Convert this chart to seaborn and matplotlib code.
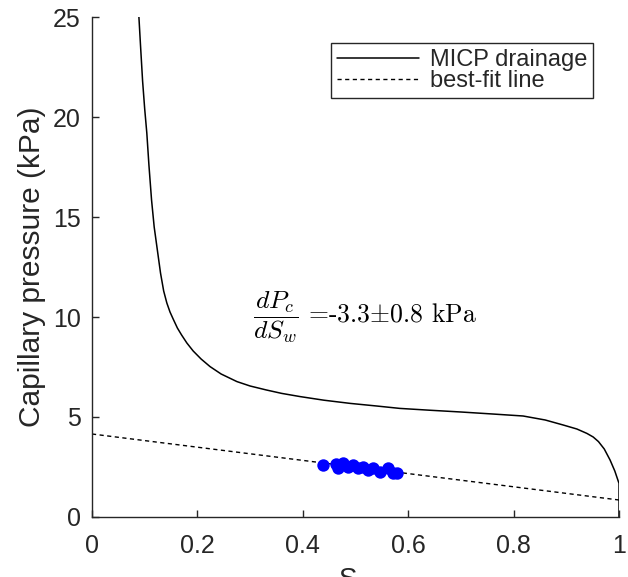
import matplotlib
matplotlib.use('Agg')
import matplotlib.pyplot as plt
import seaborn as sns
import pandas as pd

# MICP drainage curve
micp_sw = [0.089, 0.092, 0.096, 0.100, 0.104, 0.108, 0.113, 0.118, 0.124, 0.130,
           0.136, 0.142, 0.148, 0.154, 0.162, 0.170, 0.180, 0.192, 0.207, 0.224,
           0.245, 0.275, 0.300, 0.331, 0.360, 0.395, 0.440, 0.490, 0.540, 0.584,
           0.640, 0.700, 0.760, 0.818, 0.860, 0.894, 0.920, 0.939, 0.951, 0.961,
           0.972, 0.983, 0.992, 1.0, 1.0]
micp_pc = [25.0, 23.6, 21.8, 20.4, 19.2, 17.6, 15.85, 14.5, 13.35, 12.2,
           11.3, 10.7, 10.25, 9.9, 9.45, 9.1, 8.7, 8.3, 7.9, 7.52,
           7.15, 6.77, 6.55, 6.35, 6.18, 6.02, 5.84, 5.68, 5.55, 5.43,
           5.34, 5.25, 5.15, 5.05, 4.85, 4.6, 4.4, 4.18, 4.0, 3.77,
           3.4, 2.85, 2.3, 1.68, 0.0]

# best-fit line end points
fit_sw = [0.0, 1.0]
fit_pc = [4.15, 0.85]

# blue data points
pts_sw = [0.439, 0.463, 0.467, 0.477, 0.486, 0.496, 0.505, 0.515, 0.524, 0.534,
          0.546, 0.562, 0.572, 0.579]
pts_pc = [2.60, 2.65, 2.43, 2.68, 2.52, 2.60, 2.43, 2.52, 2.35, 2.43,
          2.27, 2.43, 2.18, 2.18]

xticks = [0, 0.2, 0.4, 0.6, 0.8, 1]
xticklabels = ['0', '0.2', '0.4', '0.6', '0.8', '1']
yticks = [0, 5, 10, 15, 20, 25]

micp = pd.DataFrame({'Sw': micp_sw, 'Pc': micp_pc})
fit = pd.DataFrame({'Sw': fit_sw, 'Pc': fit_pc})
pts = pd.DataFrame({'Sw': pts_sw, 'Pc': pts_pc})

sns.set_style('ticks')
plt.rcParams['font.family'] = ['Liberation Sans', 'DejaVu Sans']

fig = plt.figure(figsize=(6.28, 5.77), dpi=100)
ax = fig.add_axes([0.1465, 0.104, 0.8392, 0.8665])

sns.lineplot(data=micp, x='Sw', y='Pc', sort=False, estimator=None, color='black',
             linewidth=1.1, label='MICP drainage', ax=ax)
sns.lineplot(data=fit, x='Sw', y='Pc', sort=False, estimator=None, color='black',
             linewidth=1.0, label='best-fit line', ax=ax)
ax.lines[1].set_dashes((3, 2.5))
sns.scatterplot(data=pts, x='Sw', y='Pc', color=(0, 0, 1), s=80, edgecolor=(0, 0, 1),
                linewidth=0, zorder=3, ax=ax)

# slope annotation, fraction in math, rest in computer modern roman
ax.text(0.305, 10, r'$\dfrac{dP_c}{dS_w}$ =-3.3$\pm$0.8 kPa', math_fontfamily='cm',
        family='cmr10', fontsize=18.5, va='center', ha='left', color='black')

ax.set_xlim(0, 1)
ax.set_ylim(0, 25)
ax.set_xticks(xticks)
ax.set_xticklabels(xticklabels)
ax.set_yticks(yticks)
ax.tick_params(direction='in', length=5, width=1, colors='#262626', labelsize=18)
ax.tick_params(axis='x', pad=12)
ax.tick_params(axis='y', pad=8)
for s in ['top', 'right']:
    ax.spines[s].set_visible(False)
for s in ['left', 'bottom']:
    ax.spines[s].set_color('#262626')
    ax.spines[s].set_linewidth(1)

ax.set_ylabel('Capillary pressure (kPa)', fontsize=21.5, color='#262626', labelpad=5)
ax.set_xlabel(r'S$_\mathregular{w}$', fontsize=20, color='#262626', labelpad=6)

leg = ax.legend(loc='upper right', fontsize=17, frameon=True, fancybox=False,
                framealpha=1, edgecolor='#262626', handlelength=3.5,
                borderaxespad=1.1, borderpad=0.25, labelspacing=-0.02, handletextpad=0.45)
leg.get_frame().set_linewidth(1)

fig.savefig('out.png', dpi=100)
